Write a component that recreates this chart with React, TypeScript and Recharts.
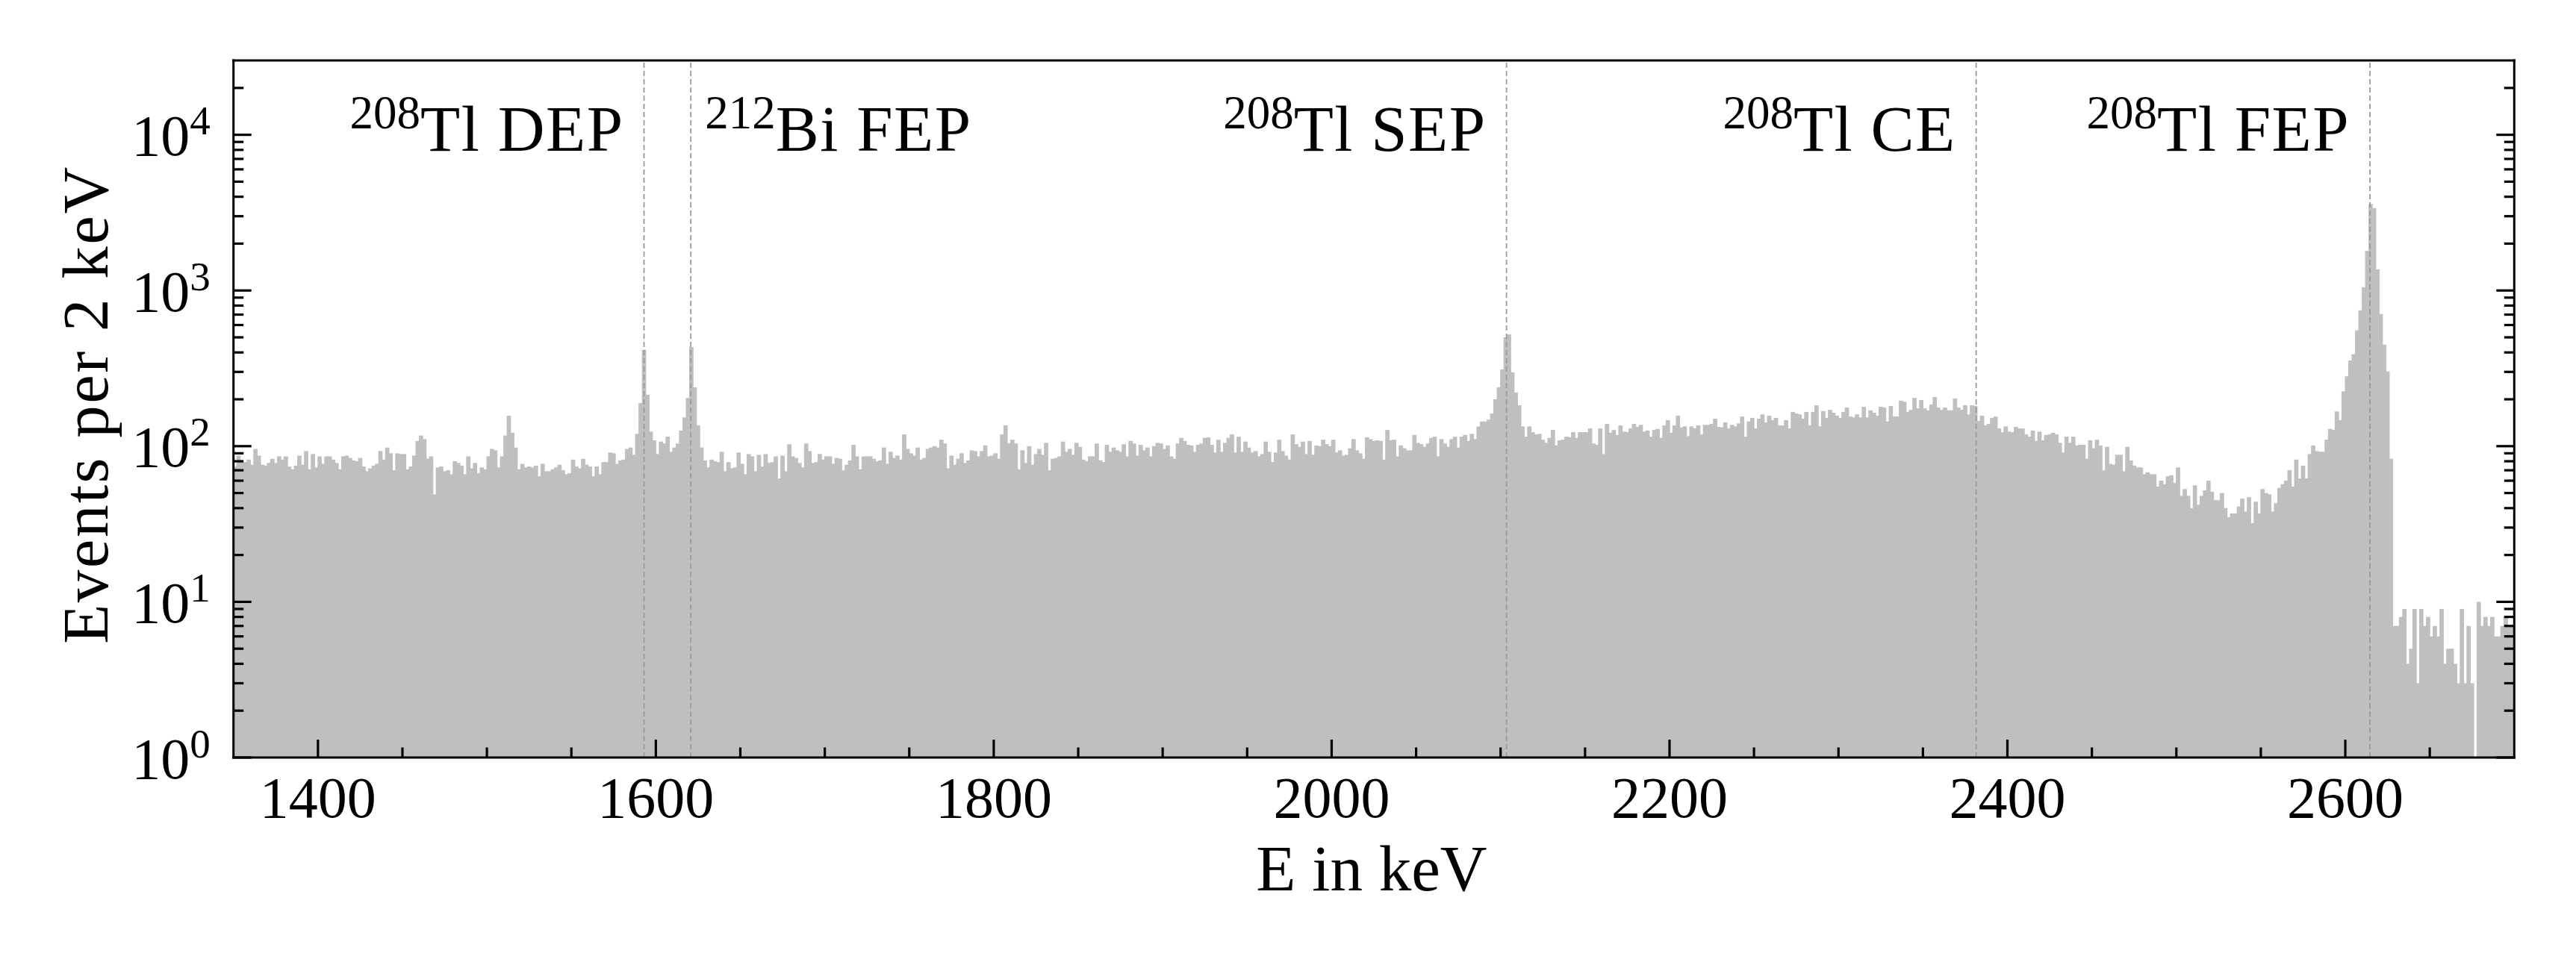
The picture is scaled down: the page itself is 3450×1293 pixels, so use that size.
import React from 'react';
import { BarChart, Bar, XAxis, YAxis, ReferenceLine } from 'recharts';

// ---------- layout / style constants ----------
const WIDTH = 3450;
const HEIGHT = 1293;
// plot area: left 312.7, right 3367.3, top 81.1, bottom 1015 (axes take 1px each)
const MARGIN = { top: 80.1, right: 81.7, bottom: 277, left: 311.7 };
const FONT = "'Liberation Serif', 'Times New Roman', Times, serif";
const BAR_COLOR = '#bfbfbf';
const LINE_COLOR = '#9a9a9a';
const AXIS_W = 3;
const TICK_W = 3.2;
const MAJOR_LEN = 24;
const MINOR_LEN = 13.5;
const TICK_FONT = 78;
const SUP_FONT = 55;
const LABEL_FONT = 87;
const ANNOT_SUP_FONT = 63;

// ---------- data ----------
const BIN_START = 1350; // keV
const BIN_WIDTH = 2; // keV
const X_DOMAIN = [1350, 2700];
const Y_DOMAIN = [1, 30000];

// counts per 2 keV bin, bins starting at 1350 keV
const COUNTS_1350 = [
  74, 87, 79, 79, 82, 76, 96, 87, 76, 75,
  78, 83, 78, 86, 82, 86, 74, 71, 75, 87,
  76, 93, 71, 89, 73, 86, 77, 86, 86, 82,
  78, 71, 86, 87, 84, 81, 80, 84, 74, 69,
  72, 75, 77, 93, 82, 98, 90, 70, 90, 89,
  89, 71, 74, 87, 108, 117, 111, 83, 86, 49,
  73, 74, 69, 70, 66, 80, 78, 75, 66, 86,
  72, 78, 67, 73, 71, 86, 96, 94, 73, 86,
  117, 157, 122, 98, 71, 77, 73, 74, 73, 75,
  64, 77, 69, 69, 71, 73, 76, 70, 66, 67,
  82, 74, 72, 83, 76, 74, 64, 74, 66, 79,
  79, 91, 90,
];
// bins starting at 1576 keV
const COUNTS_1576 = [
  77, 81, 82, 96, 98, 88, 120, 189, 416, 214,
  124, 109, 89, 107, 104, 115, 92, 98, 104, 126,
  153, 204, 433, 239, 136, 98, 81, 73, 82, 80,
  79, 92, 69, 79, 72, 73, 91, 77, 66, 89,
  86, 69, 88, 74, 89, 78, 79, 86, 62, 87,
  69, 103, 86, 84, 78, 73, 104, 93, 78, 79,
  89, 82, 86, 86, 77, 84, 83, 70, 76, 81,
  102, 86, 71, 86, 86, 86, 83, 80, 81, 98,
  77, 92, 84, 87, 82, 119, 96, 90, 87, 98,
  82, 84, 96, 98, 100, 98, 110, 104, 72, 87,
  76, 83, 90, 78, 81, 94, 93, 86, 93, 101,
  86, 87,
];
// bins starting at 1800 keV
const COUNTS_1800 = [
  90, 83, 119, 136, 104, 110, 104, 71, 94, 78,
  100, 76, 89, 96, 88, 105, 70, 83, 84, 86,
  107, 92, 96, 88, 105, 99, 82, 80, 86, 86,
  104, 81, 79, 102, 92, 98, 94, 92, 103, 86,
  108, 104, 87, 102, 94, 98, 86, 100, 105, 104,
  96, 101, 86, 83, 104, 113, 108, 102, 101, 92,
  102, 104, 113, 114, 102, 91, 110, 92, 105, 113,
  119, 91, 115, 92, 107, 98, 91, 93, 86, 89,
  107, 92, 79, 91, 110, 93, 87, 82, 119, 103,
  99, 107, 89, 108, 88, 101, 100, 110, 103, 100,
  110, 91, 94, 87, 88, 97, 111, 94, 90, 83,
  114, 111, 108,
];
// bins starting at 2026 keV
const COUNTS_2026 = [
  109, 108, 82, 127, 109, 110, 86, 101, 97, 94,
  94, 118, 105, 103, 99, 104, 113, 115, 86, 111,
  104, 99, 111, 115, 98, 115, 118, 108, 120, 111,
  134, 144, 144, 148, 162, 200, 239, 311, 500, 522,
  298, 221, 183, 134, 115, 134, 123, 119, 120, 110,
  105, 113, 127, 101, 109, 110, 115, 114, 123, 113,
  123, 123, 123, 130, 104, 102, 130, 89, 139, 122,
  127, 118, 136, 124, 123, 130, 139, 133, 137, 124,
  126, 115, 127, 129, 113, 136, 147, 122, 136, 157,
  132, 134, 116, 134, 130, 136, 119, 137, 137, 139,
  150, 133, 132, 142, 130, 137, 134, 140, 155, 115,
  144, 152, 130,
];
// bins starting at 2252 keV
const COUNTS_2252 = [
  150, 160, 142, 157, 147, 152, 136, 136, 147, 130,
  166, 162, 160, 150, 166, 136, 166, 183, 134, 168,
  152, 171, 164, 157, 152, 166, 177, 155, 153, 160,
  153, 179, 153, 170, 164, 157, 179, 177, 144, 181,
  155, 155, 196, 193, 166, 171, 204, 175, 198, 175,
  170, 185, 207, 177, 171, 177, 170, 170, 202, 177,
  171, 183, 160, 183, 181, 145, 157, 136, 139, 152,
  155, 130, 123, 134, 124, 123, 133, 130, 130, 119,
  115, 126, 108, 124, 109, 118, 119, 122, 119, 105,
  91, 115, 105, 115, 101, 102, 102, 83, 109, 97,
  110, 101, 70, 99, 77, 76, 88, 88, 69, 99,
  81, 75, 73,
];
// bins starting at 2478 keV (null = empty bin)
const COUNTS_2478 = [
  73, 66, 68, 66, 66, 55, 60, 57, 64, 65,
  58, 73, 48, 53, 48, 40, 56, 42, 48, 52,
  60, 51, 45, 45, 50, 40, 35, 37, 37, 41,
  46, 38, 47, 32, 44, 37, 53, 50, 49, 38,
  43, 54, 57, 60, 70, 55, 82, 62, 75, 62,
  89, 101, 93, 92, 92, 110, 129, 127, 167, 147,
  225, 281, 355, 390, 554, 746, 1049, 1797, 3593, 3379,
  1368, 706, 449, 302, 83, 7, 7, 8, 9, 4,
  5, 9, 3, 9, 7, 8, 6, 7, 6, 9,
  4, 5, 5, 4, 3, 9, 3, 7, 3, null,
  10, 7, 8, 7, 8, 6, 6, 7, 8, 7,
  7,
];

const COUNTS: (number | null)[] = [
  ...COUNTS_1350,
  ...COUNTS_1576,
  ...COUNTS_1800,
  ...COUNTS_2026,
  ...COUNTS_2252,
  ...COUNTS_2478,
];

const DATA = COUNTS.map((n, i) => ({
  e: BIN_START + BIN_WIDTH * i + BIN_WIDTH / 2,
  n,
}));

// ticks
const X_MAJOR = [1400, 1600, 1800, 2000, 2200, 2400, 2600];
const X_MINOR = [1450, 1500, 1550, 1650, 1700, 1750, 1850, 1900, 1950, 2050, 2100, 2150, 2250, 2300, 2350, 2450, 2500, 2550, 2650];
const X_TICKS = [...X_MAJOR, ...X_MINOR].sort((a, b) => a - b);

const Y_MAJOR = [1, 10, 100, 1000, 10000];
const Y_MINOR = [
  2, 3, 4, 5, 6, 7, 8, 9,
  20, 30, 40, 50, 60, 70, 80, 90,
  200, 300, 400, 500, 600, 700, 800, 900,
  2000, 3000, 4000, 5000, 6000, 7000, 8000, 9000,
  20000,
];
const Y_TICKS = [...Y_MAJOR, ...Y_MINOR].sort((a, b) => a - b);

// annotated lines
const PEAK_ENERGIES = [1593, 1620.7, 2103.5, 2381.5, 2614.6];
const PEAK_MASSES = ['208', '212', '208', '208', '208'];
const PEAK_NAMES = ['Tl DEP', 'Bi FEP', 'Tl SEP', 'Tl CE', 'Tl FEP'];
const PEAK_SIDES = ['left', 'right', 'left', 'left', 'left'];

const X_LABEL = 'E in keV';
const Y_LABEL = 'Events per 2 keV';

// ---------- renderers ----------
function BottomTick(props: any) {
  const { x, y, payload } = props;
  const v = payload.value as number;
  const major = X_MAJOR.includes(v);
  return (
    <g>
      <line x1={x} x2={x} y1={y} y2={y - (major ? MAJOR_LEN : MINOR_LEN)} stroke="#000" strokeWidth={TICK_W} />
      {major && (
        <text x={x} y={y + 80} textAnchor="middle" fontFamily={FONT} fontSize={TICK_FONT} fill="#000">
          {v}
        </text>
      )}
    </g>
  );
}

function TopTick(props: any) {
  const { x, y, payload } = props;
  const v = payload.value as number;
  const major = X_MAJOR.includes(v);
  return <line x1={x} x2={x} y1={y} y2={y + (major ? MAJOR_LEN : MINOR_LEN)} stroke="#000" strokeWidth={TICK_W} />;
}

function LeftTick(props: any) {
  const { x, y, payload } = props;
  const v = payload.value as number;
  const major = Y_MAJOR.includes(v);
  const exp = Math.round(Math.log10(v));
  return (
    <g>
      <line x1={x} x2={x + (major ? MAJOR_LEN : MINOR_LEN)} y1={y} y2={y} stroke="#000" strokeWidth={TICK_W} />
      {major && (
        <text x={x - 31} y={y + 27.5} textAnchor="end" fontFamily={FONT} fontSize={TICK_FONT} fill="#000">
          <tspan>10</tspan>
          <tspan dy={-28} fontSize={SUP_FONT}>{exp}</tspan>
        </text>
      )}
    </g>
  );
}

function RightTick(props: any) {
  const { x, y, payload } = props;
  const v = payload.value as number;
  const major = Y_MAJOR.includes(v);
  return <line x1={x} x2={x - (major ? MAJOR_LEN : MINOR_LEN)} y1={y} y2={y} stroke="#000" strokeWidth={TICK_W} />;
}

// histogram bar: geometry from the library, widened by a hair on both sides to hide anti-aliasing seams
function HistBar(props: any) {
  const { x, y, width, height } = props;
  if (!Number.isFinite(x) || !Number.isFinite(y) || !(height > 0)) return null;
  return <rect x={x - 0.6} y={y} width={width + 1.2} height={height} fill={BAR_COLOR} />;
}

const annotLabel = (i: number) => (props: any) => {
  const vb = props.viewBox || {};
  const x = vb.x ?? 0;
  const top = vb.y ?? 0;
  const right = PEAK_SIDES[i] === 'right';
  return (
    <text
      x={right ? x + 19 : x - 27}
      y={top + 121}
      textAnchor={right ? 'start' : 'end'}
      fontFamily={FONT}
      fontSize={LABEL_FONT}
      fill="#000"
    >
      <tspan dy={-30} fontSize={ANNOT_SUP_FONT}>{PEAK_MASSES[i]}</tspan>
      <tspan dy={30} letterSpacing={1.5}>{PEAK_NAMES[i]}</tspan>
    </text>
  );
};

const xLabel = (props: any) => {
  const vb = props.viewBox || {};
  return (
    <text x={vb.x + vb.width / 2 - 3} y={vb.y + 178} textAnchor="middle" fontFamily={FONT} fontSize={LABEL_FONT} fill="#000">
      {X_LABEL}
    </text>
  );
};

const yLabel = (props: any) => {
  const vb = props.viewBox || {};
  const cx = vb.x + vb.width - 169;
  const cy = vb.y + vb.height / 2 - 6;
  return (
    <text
      x={cx}
      y={cy}
      transform={`rotate(-90, ${cx}, ${cy})`}
      textAnchor="middle"
      fontFamily={FONT}
      fontSize={LABEL_FONT}
      letterSpacing={2.5}
      fill="#000"
    >
      {Y_LABEL}
    </text>
  );
};

const axisLineStyle = { stroke: '#000', strokeWidth: AXIS_W, strokeLinecap: 'square' as const };

export default function App() {
  return (
    <div style={{ position: 'absolute', left: 0, top: 0, width: WIDTH, height: HEIGHT, background: '#fff' }}>
      <BarChart width={WIDTH} height={HEIGHT} data={DATA} margin={MARGIN} barCategoryGap={0} barGap={0}>
        <Bar dataKey="n" fill={BAR_COLOR} barSize={4.52} shape={<HistBar />} isAnimationActive={false} />
        {PEAK_ENERGIES.map((e, i) => (
          <ReferenceLine
            key={i}
            x={e}
            stroke={LINE_COLOR}
            strokeWidth={1.8}
            strokeDasharray="7 4"
            label={annotLabel(i)}
          />
        ))}
        <XAxis
          dataKey="e"
          type="number"
          domain={X_DOMAIN}
          allowDataOverflow
          ticks={X_TICKS}
          interval={0}
          tick={<BottomTick />}
          tickLine={false}
          tickSize={0}
          tickMargin={0}
          height={1}
          axisLine={axisLineStyle}
          label={xLabel}
        />
        <XAxis
          xAxisId="top"
          orientation="top"
          type="number"
          domain={X_DOMAIN}
          allowDataOverflow
          ticks={X_TICKS}
          interval={0}
          tick={<TopTick />}
          tickLine={false}
          tickSize={0}
          tickMargin={0}
          height={1}
          axisLine={axisLineStyle}
        />
        <YAxis
          type="number"
          scale="log"
          domain={Y_DOMAIN}
          allowDataOverflow
          ticks={Y_TICKS}
          interval={0}
          tick={<LeftTick />}
          tickLine={false}
          tickSize={0}
          tickMargin={0}
          width={1}
          axisLine={axisLineStyle}
          label={yLabel}
        />
        <YAxis
          yAxisId="right"
          orientation="right"
          type="number"
          scale="log"
          domain={Y_DOMAIN}
          allowDataOverflow
          ticks={Y_TICKS}
          interval={0}
          tick={<RightTick />}
          tickLine={false}
          tickSize={0}
          tickMargin={0}
          width={1}
          axisLine={axisLineStyle}
        />
      </BarChart>
    </div>
  );
}
